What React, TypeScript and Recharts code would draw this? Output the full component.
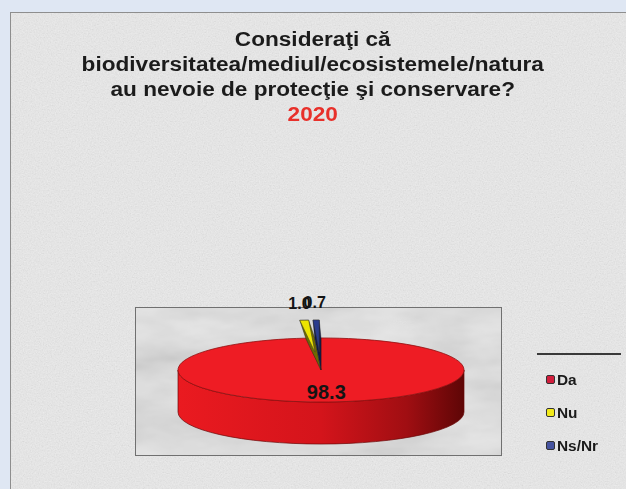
import * as React from "react"
import { PieChart, Pie, Cell, Legend } from "recharts"

const CATEGORIES = ["Da", "Nu", "Ns/Nr"]
const VALUES = [98.3, 1.0, 0.7]
const TITLE_LINES = [
  "Consideraţi că",
  "biodiversitatea/mediul/ecosistemele/natura",
  "au nevoie de protecţie şi conservare?",
]
const YEAR = "2020"

const COLORS = ["#ee1c24", "#ece400", "#2a3c8e"]
const DARK = ["#7a0a0a", "#6f6a00", "#0f1848"]
const LEGEND_COLORS = ["#d21e3c", "#f2ea1a", "#4654a0"]

const data = CATEGORIES.map((name, i) => ({ name, value: VALUES[i] }))

const RAD = Math.PI / 180
const TILT = 0.224 // ry / rx of the tilted disc
const DEPTH = 42
const EXPLODE = 80
const FONT = '"Liberation Sans", Arial, sans-serif'

// elliptical "3d" sector drawn from the angles recharts computed
const Slice3D = (props: any) => {
  const { cx, cy, outerRadius, startAngle, endAngle, midAngle, percent, index } = props
  const rx = outerRadius
  const ry = outerRadius * TILT
  const small = percent < 0.05
  const ox = small ? EXPLODE * Math.cos(midAngle * RAD) : 0
  const oy = small ? -EXPLODE * TILT * Math.sin(midAngle * RAD) : 0
  const p = (a: number, dx = 0, dy = 0) =>
    [cx + dx + rx * Math.cos(a * RAD), cy + dy - ry * Math.sin(a * RAD)] as [number, number]
  const hi = Math.max(startAngle, endAngle)
  const lo = Math.min(startAngle, endAngle)
  const large = hi - lo > 180 ? 1 : 0
  const fill = COLORS[index % COLORS.length]
  const dark = DARK[index % DARK.length]

  const [hx, hy] = p(hi, ox, oy)
  const [lx, ly] = p(lo, ox, oy)
  const top = `M${cx + ox},${cy + oy} L${hx},${hy} A${rx},${ry} 0 ${large} 1 ${lx},${ly} Z`

  // front wall (where the rim faces the viewer)
  const walls: string[] = []
  if (!small) {
    for (let k = -2; k <= 2; k++) {
      const a1 = Math.max(lo, -180 + 360 * k)
      const a2 = Math.min(hi, 360 * k)
      if (a2 - a1 <= 0.01) continue
      const [x2, y2] = p(a2)
      const [x1, y1] = p(a1)
      walls.push(
        `M${x2},${y2} A${rx},${ry} 0 0 1 ${x1},${y1} L${x1},${y1 + DEPTH} A${rx},${ry} 0 0 0 ${x2},${y2 + DEPTH} Z`
      )
    }
  }

  let side = ""
  if (small) {
    const [hx0, hy0] = p(hi)
    const [lx0, ly0] = p(lo)
    side = `M${hx},${hy} L${lx},${ly} L${lx0},${ly0} L${cx},${cy} L${hx0},${hy0} Z`
  }

  const gid = `wall-${index}`
  return (
    <g>
      <defs>
        <linearGradient id={gid} gradientUnits="userSpaceOnUse" x1={cx - rx} y1={0} x2={cx + rx} y2={0}>
          <stop offset="0" stopColor="#ea1a20" />
          <stop offset="0.5" stopColor="#d4141b" />
          <stop offset="0.8" stopColor="#a00e12" />
          <stop offset="1" stopColor="#5e0606" />
        </linearGradient>
      </defs>
      {walls.map((d, i) => (
        <path key={i} d={d} fill={`url(#${gid})`} stroke="#6a0808" strokeWidth={0.7} />
      ))}
      {small && <path d={side} fill={dark} stroke="#222" strokeWidth={0.4} />}
      <path d={top} fill={fill} stroke={small ? "#333" : "#8f1010"} strokeWidth={small ? 0.5 : 0.8} />
    </g>
  )
}

const renderLabel = (props: any) => {
  const { cx, cy, midAngle, outerRadius, percent, value } = props
  const rx = outerRadius
  const ry = outerRadius * TILT
  const inside = percent > 0.5
  const f = inside ? 0.7 : 2
  const x = cx + f * rx * Math.cos(midAngle * RAD)
  const y = cy - f * ry * Math.sin(midAngle * RAD) - (inside ? 0 : 3)
  return (
    <text
      x={x}
      y={y}
      textAnchor="middle"
      dominantBaseline="central"
      fill="#141414"
      fontFamily={FONT}
      fontWeight="bold"
      fontSize={inside ? 20 : 16}
    >
      {value.toFixed(1)}
    </text>
  )
}

const LegendBox = ({ payload }: any) => {
  const items = [...(payload || [])].sort(
    (a: any, b: any) => CATEGORIES.indexOf(a.value) - CATEGORIES.indexOf(b.value)
  )
  return (
    <div style={{ width: 84, borderTop: "2px solid #3a3a3a", paddingTop: 8, fontFamily: FONT }}>
      {items.map((entry: any, i: number) => (
        <div
          key={`leg-${i}`}
          style={{ display: "flex", alignItems: "center", height: 33, fontSize: 14, fontWeight: "bold", color: "#1a1a1a" }}
        >
          <span
            style={{
              width: 7,
              height: 7,
              marginLeft: 9,
              marginRight: 2,
              background: LEGEND_COLORS[CATEGORIES.indexOf(entry.value) % LEGEND_COLORS.length],
              border: "1px solid #333",
              borderRadius: 2,
            }}
          />
          <span style={{ display: "inline-block", transform: "scaleX(1.1)", transformOrigin: "left center" }}>
            {entry.value}
          </span>
        </div>
      ))}
    </div>
  )
}

export default function App() {
  return (
    <div style={{ position: "absolute", left: 0, top: 0, width: 626, height: 489, background: "#dfe7f3", overflow: "hidden" }}>
      {/* textured panel */}
      <svg width={616} height={477} style={{ position: "absolute", left: 10, top: 12 }}>
        <defs>
          <filter id="grain" x="0" y="0" width="100%" height="100%">
            <feTurbulence type="fractalNoise" baseFrequency="0.75" numOctaves={2} seed={4} />
            <feColorMatrix type="matrix" values="0.33 0.33 0.33 0 0  0.33 0.33 0.33 0 0  0.33 0.33 0.33 0 0  0 0 0 0 1" />
          </filter>
          <filter id="marble" x="0" y="0" width="100%" height="100%">
            <feTurbulence type="fractalNoise" baseFrequency="0.012 0.03" numOctaves={4} seed={9} />
            <feColorMatrix type="matrix" values="0.33 0.33 0.33 0 0  0.33 0.33 0.33 0 0  0.33 0.33 0.33 0 0  0 0 0 0 1" />
          </filter>
        </defs>
        <rect x={0} y={0} width={616} height={477} fill="#efefef" />
        <rect x={0} y={0} width={616} height={477} filter="url(#grain)" opacity={0.2} />
        <rect x={0.5} y={0.5} width={640} height={500} fill="none" stroke="#8e8e8e" />
        <rect x={125} y={295} width={367} height={149} fill="#ececec" />
        <rect x={125} y={295} width={367} height={149} filter="url(#marble)" opacity={0.35} />
        <rect x={125.5} y={295.5} width={366} height={148} fill="none" stroke="#707070" />
      </svg>

      {/* title */}
      <div
        style={{
          position: "absolute",
          left: 0,
          top: 27,
          width: 626,
          textAlign: "center",
          fontFamily: FONT,
          fontWeight: "bold",
          fontSize: 20,
          lineHeight: "25px",
          color: "#1b1b1b",
        }}
      >
        <div style={{ transform: "scaleX(1.13)", transformOrigin: "315px 0" }}>
          {TITLE_LINES.map((t, i) => (
            <div key={i}>{t}</div>
          ))}
          <div style={{ color: "#e8302a" }}>{YEAR}</div>
        </div>
      </div>

      <div style={{ position: "absolute", left: 0, top: 0 }}>
        <PieChart width={626} height={489} margin={{ top: 0, right: 0, bottom: 0, left: 0 }}>
          <Pie
            data={data}
            dataKey="value"
            nameKey="name"
            cx={321}
            cy={370}
            outerRadius={143}
            startAngle={90}
            endAngle={-270}
            stroke="none"
            shape={Slice3D}
            label={renderLabel}
            labelLine={false}
            isAnimationActive={false}
          >
            {data.map((entry, i) => (
              <Cell key={`cell-${i}`} fill={COLORS[i % COLORS.length]} />
            ))}
          </Pie>
          <Legend
            content={<LegendBox />}
            wrapperStyle={{ position: "absolute", left: 537, top: 353, width: 90, bottom: "auto" }}
          />
        </PieChart>
      </div>
    </div>
  )
}
